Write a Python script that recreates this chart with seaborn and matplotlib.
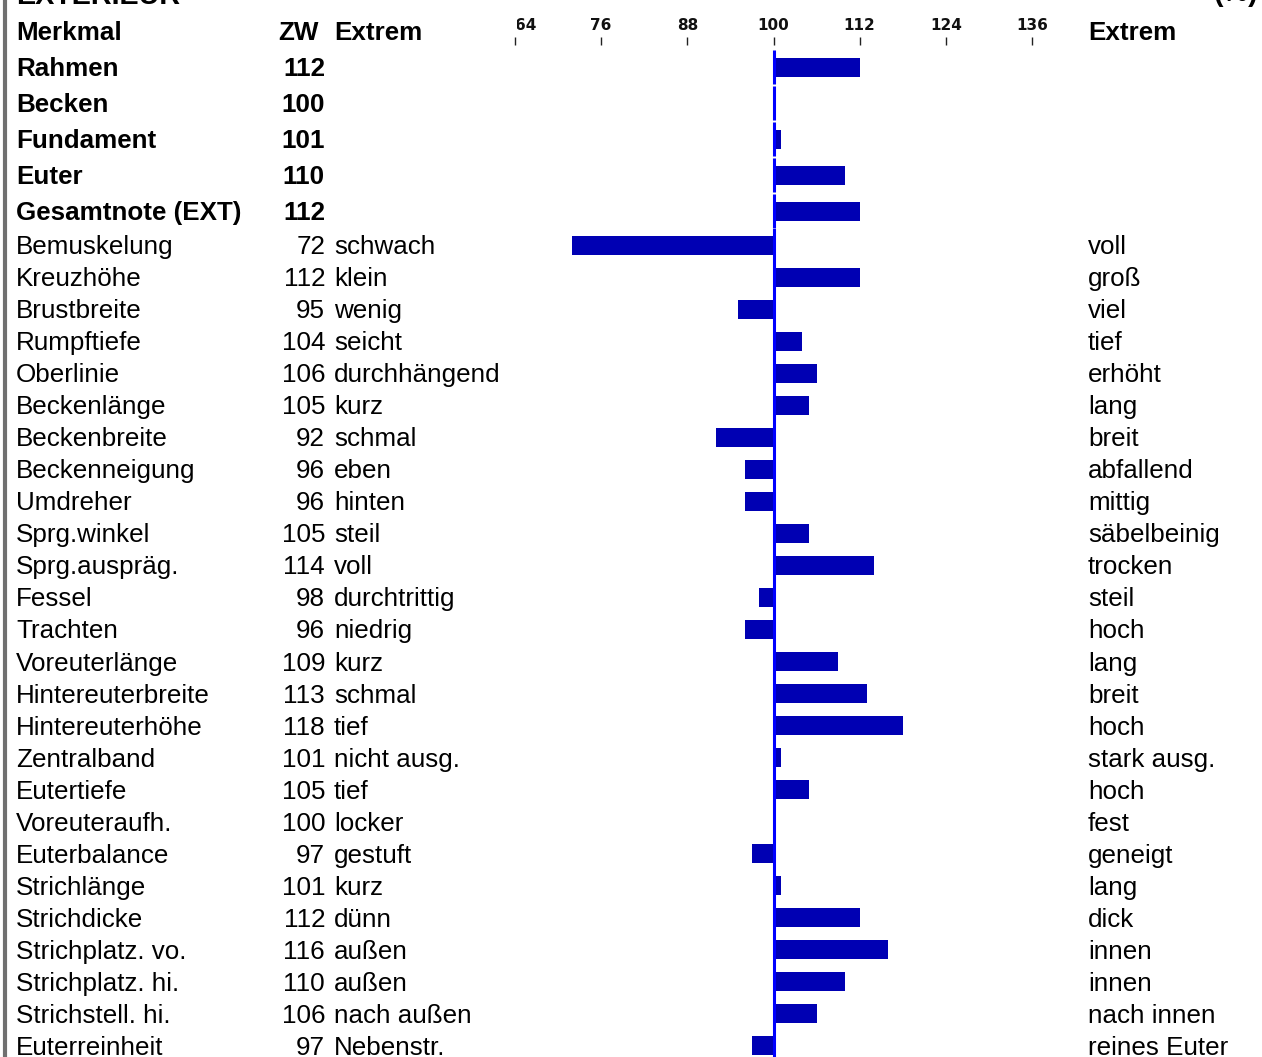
import numpy as np
import pandas as pd
import seaborn as sns
import matplotlib.pyplot as plt
from matplotlib.transforms import blended_transform_factory, Bbox

# Daten
top_names = ["Rahmen", "Becken", "Fundament", "Euter", "Gesamtnote (EXT)"]
top_zw = [112, 100, 101, 110, 112]

names = ["Bemuskelung", "Kreuzhöhe", "Brustbreite", "Rumpftiefe", "Oberlinie",
         "Beckenlänge", "Beckenbreite", "Beckenneigung", "Umdreher", "Sprg.winkel",
         "Sprg.auspräg.", "Fessel", "Trachten", "Voreuterlänge", "Hintereuterbreite",
         "Hintereuterhöhe", "Zentralband", "Eutertiefe", "Voreuteraufh.", "Euterbalance",
         "Strichlänge", "Strichdicke", "Strichplatz. vo.", "Strichplatz. hi.",
         "Strichstell. hi.", "Euterreinheit"]
zw = [72, 112, 95, 104, 106, 105, 92, 96, 96, 105, 114, 98, 96, 109, 113,
      118, 101, 105, 100, 97, 101, 112, 116, 110, 106, 97]
extrem_low = ["schwach", "klein", "wenig", "seicht", "durchhängend", "kurz", "schmal",
              "eben", "hinten", "steil", "voll", "durchtrittig", "niedrig", "kurz",
              "schmal", "tief", "nicht ausg.", "tief", "locker", "gestuft", "kurz",
              "dünn", "außen", "außen", "nach außen", "Nebenstr."]
extrem_high = ["voll", "groß", "viel", "tief", "erhöht", "lang", "breit", "abfallend",
               "mittig", "säbelbeinig", "trocken", "steil", "hoch", "lang", "breit",
               "hoch", "stark ausg.", "hoch", "fest", "geneigt", "lang", "dick", "innen",
               "innen", "nach innen", "reines Euter"]
scale_ticks = [64, 76, 88, 100, 112, 124, 136]
basis = 100

sns.set_theme(style="white")
plt.rcParams['font.family'] = ['Liberation Sans', 'DejaVu Sans']
plt.rcParams['text.color'] = 'black'

W, H = 1262, 1057
fig = plt.figure(figsize=(W / 100, H / 100), dpi=100)

bar_col = "#0000b3"
line_col = "#0000ff"
fs = 18.7

left = 515 / W
width = 517 / W
ax_top = fig.add_axes([left, 1 - 229 / H, width, 184 / H])
ax_bot = fig.add_axes([left, 1 - 1062 / H, width, 833 / H])

df_top = pd.DataFrame({"Merkmal": top_names, "dev": np.array(top_zw) - basis})
df_bot = pd.DataFrame({"Merkmal": names, "dev": np.array(zw) - basis})

sns.barplot(data=df_top, x="dev", y="Merkmal", orient="h", color=bar_col,
            saturation=1, width=19 / 36, linewidth=0, ax=ax_top)
sns.barplot(data=df_bot, x="dev", y="Merkmal", orient="h", color=bar_col,
            saturation=1, width=19 / 32, linewidth=0, ax=ax_bot)

# Linie bei 100
idx = np.arange(len(top_names))
ax_top.vlines(np.zeros(len(idx)), idx - 0.46, idx + 0.46, color=line_col, lw=2.2, zorder=3)
ax_bot.axvline(0, color=line_col, lw=2.2, zorder=3)

lo, hi = scale_ticks[0] - basis, scale_ticks[-1] - basis
for ax in (ax_top, ax_bot):
    ax.set_xlim(lo, hi)
    ax.set_facecolor("none")
    for s in ax.spines.values():
        s.set_visible(False)
    ax.set_xlabel("")
    ax.set_ylabel("")
    ax.set_yticks([])
ax_top.set_ylim(len(top_names) - 0.5, -0.5 - 4 / 36)
ax_bot.set_ylim(len(names) - 0.5, -0.5)
ax_bot.set_xticks([])

ax_top.xaxis.tick_top()
ax_top.set_xticks([t - basis for t in scale_ticks])
ax_top.set_xticklabels([str(t) for t in scale_ticks], fontweight="bold",
                       family="DejaVu Sans", fontsize=11)
ax_top.tick_params(axis="x", top=True, bottom=False, length=5.8, width=1,
                   color="#222222", pad=3.2, labelcolor="#111111")
# erste Beschriftung links leicht angeschnitten wie im Original
first = ax_top.get_xticklabels()[0]
first.set_horizontalalignment("left")
first.set_clip_box(Bbox.from_extents(517, 0, W, H))
first.set_clip_on(True)

# Texte
x_name, x_zw, x_low, x_high = 16 / W, 325 / W, 334 / W, 1088 / W
tr_top = blended_transform_factory(fig.transFigure, ax_top.transData)
tr_bot = blended_transform_factory(fig.transFigure, ax_bot.transData)
dy_top, dy_bot = 2 / 36, 2 / 32

for i, (n, v) in enumerate(zip(top_names, top_zw)):
    ax_top.text(x_name, i + dy_top, n, transform=tr_top, fontsize=fs, fontweight="bold",
                va="center", ha="left")
    ax_top.text(x_zw, i + dy_top, str(v), transform=tr_top, fontsize=fs, fontweight="bold",
                va="center", ha="right")

for i, (n, v, a, b) in enumerate(zip(names, zw, extrem_low, extrem_high)):
    y = i + dy_bot
    ax_bot.text(x_name, y, n, transform=tr_bot, fontsize=fs, va="center", ha="left")
    ax_bot.text(x_zw, y, str(v), transform=tr_bot, fontsize=fs, va="center", ha="right")
    ax_bot.text(x_low, y, a, transform=tr_bot, fontsize=fs, va="center", ha="left")
    ax_bot.text(x_high, y, b, transform=tr_bot, fontsize=fs, va="center", ha="left")

y_head = 1 - 33 / H
fig.text(x_name, y_head, "Merkmal", fontsize=fs, fontweight="bold", va="center")
fig.text(278 / W, y_head, "ZW", fontsize=fs, fontweight="bold", va="center")
fig.text(x_low, y_head, "Extrem", fontsize=fs, fontweight="bold", va="center")
fig.text(x_high, y_head, "Extrem", fontsize=fs, fontweight="bold", va="center")

# abgeschnittener Titel oben
fig.text(x_name, 1 - 4 / H, "EXTERIEUR", fontsize=fs + 2, fontweight="bold", va="baseline")
fig.text(1258 / W, 1 - 1 / H, "(%)", fontsize=fs + 2, fontweight="bold", va="baseline", ha="right")

# grauer Rand links
fig.add_artist(plt.Line2D([5 / W, 5 / W], [0, 1], color="#707070", lw=3))

fig.savefig("out.png", dpi=100)
